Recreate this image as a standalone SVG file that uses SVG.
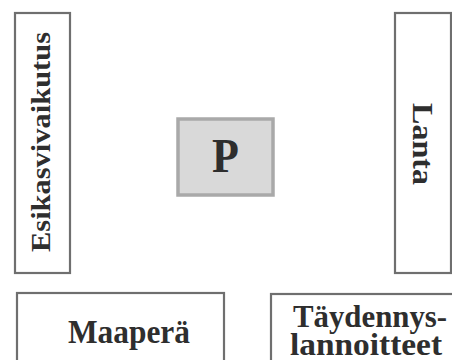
<svg xmlns="http://www.w3.org/2000/svg" width="452" height="360" viewBox="0 0 452 360">
  <style>
    .box { fill: #ffffff; stroke: #6f6f6f; stroke-width: 2.2; }
    .core { fill: #d9d9d9; stroke: #a9a9a9; stroke-width: 3.5; }
    .lbl { font-family: "Liberation Serif", "Times New Roman", serif; font-weight: bold; font-size: 31px; fill: #2e2e2e; text-anchor: middle; }
  </style>
  <rect width="452" height="360" fill="#ffffff"/>
  <g id="connectors"></g>
  <g id="esikasvivaikutus">
    <rect class="box" x="15" y="13" width="55" height="260"/>
    <text class="lbl" transform="translate(50,142) rotate(-90)" style="font-size:28px" textLength="220" lengthAdjust="spacingAndGlyphs">Esikasvivaikutus</text>
  </g>
  <g id="lanta">
    <rect class="box" x="395" y="13" width="56" height="260"/>
    <text class="lbl" transform="translate(413,144) rotate(90)" style="font-size:30px" textLength="82" lengthAdjust="spacingAndGlyphs">Lanta</text>
  </g>
  <g id="p">
    <rect class="core" x="178" y="119" width="95" height="76"/>
    <text class="lbl" transform="translate(225.5,172) scale(1,1.1)" style="font-size:44px">P</text>
  </g>
  <g id="maapera">
    <rect class="box" x="17" y="293" width="207" height="80"/>
    <text class="lbl" transform="translate(129,343) scale(1,1.08)" textLength="122" lengthAdjust="spacingAndGlyphs">Maaperä</text>
  </g>
  <g id="taydennyslannoitteet">
    <rect class="box" x="271" y="294" width="200" height="80"/>
    <text class="lbl" transform="translate(370,327) scale(1,1.05)" textLength="154" lengthAdjust="spacingAndGlyphs">Täydennys-</text>
    <text class="lbl" transform="translate(366,355) scale(1,1.05)" textLength="152" lengthAdjust="spacingAndGlyphs">lannoitteet</text>
  </g>
</svg>
